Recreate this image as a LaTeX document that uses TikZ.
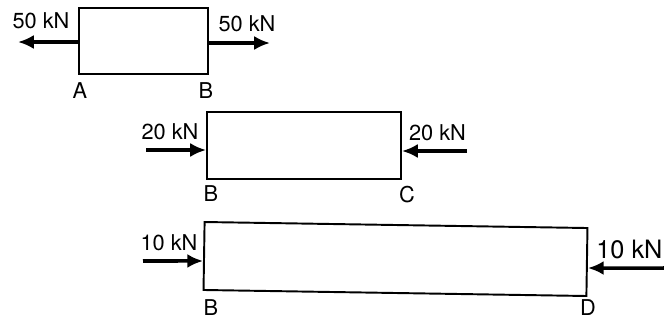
\documentclass[tikz,border=0pt]{standalone}
\usepackage{fontspec}
\setsansfont{TeX Gyre Heros}
\usetikzlibrary{
	arrows.meta,    % Per le punte delle forze
	calc            % Per le coordinate calcolate
}

\begin{document}
\begin{tikzpicture}[>=latex, x=0.02cm, y=-0.02cm,
		asta/.style={draw, line width=1.1pt, inner sep=0pt},
		forza/.style={-{Latex[length=9pt,width=8pt]}, line width=2pt},
		etichetta/.style={font=\sffamily\fontsize{12.4}{14}\selectfont, inner sep=0pt}]
				% --- Riquadro ---
				\clip (0,0) rectangle (664,322);
				
				% --- Tratto AB (trazione) ---
				\node[asta, minimum width=2.58cm, minimum height=1.32cm] (AB) at (143.5,41) {};
				\coordinate (fA) at (18,42);
				\coordinate (fB) at (270,43);
				\draw[forza] (AB.west |- fA) -- (fA);
				\draw[forza] (AB.east |- fB) -- (fB);
				\node[etichetta] (qA) at (41,21) {50 kN};
				\node[etichetta] (qB) at (247,24) {50 kN};
				\node[etichetta] (pA) at (80,91) {A};
				\node[etichetta] (pB) at (206,91) {B};
				
				% --- Tratto BC (compressione) ---
				\node[asta, minimum width=3.88cm, minimum height=1.34cm] (BC) at (304,145.5) {};
				\coordinate (fBc) at (146,150);
				\coordinate (fC) at (467,151);
				\draw[forza] (fBc) -- (BC.west |- fBc);
				\draw[forza] (fC) -- (BC.east |- fC);
				\node[etichetta] (qBc) at (170,132) {20 kN};
				\node[etichetta] (qC) at (437.5,133) {20 kN};
				\node[etichetta] (pBc) at (211,194) {B};
				\node[etichetta] (pC) at (407,195) {C};
				
				% --- Tratto BD (compressione) ---
				\node[asta, minimum width=7.66cm, minimum height=1.36cm, rotate=-0.9] (BD) at (395.5,259) {};
				\coordinate (fBd) at (143,261);
				\coordinate (fD) at (668,268);
				\draw[forza] (fBd) -- ($(BD.west)+(0,5)$);
				\draw[forza] (fD) -- ($(BD.east)+(0,6)$);
				\node[etichetta] (qBd) at (169,243) {10 kN};
				\node[etichetta, anchor=west, font=\sffamily\fontsize{14.4}{16}\selectfont] (qD) at (596,249) {10 kN};
				\node[etichetta] (pBd) at (211,308) {B};
				\node[etichetta] (pD) at (588,308) {D};
			\end{tikzpicture}
\end{document}
